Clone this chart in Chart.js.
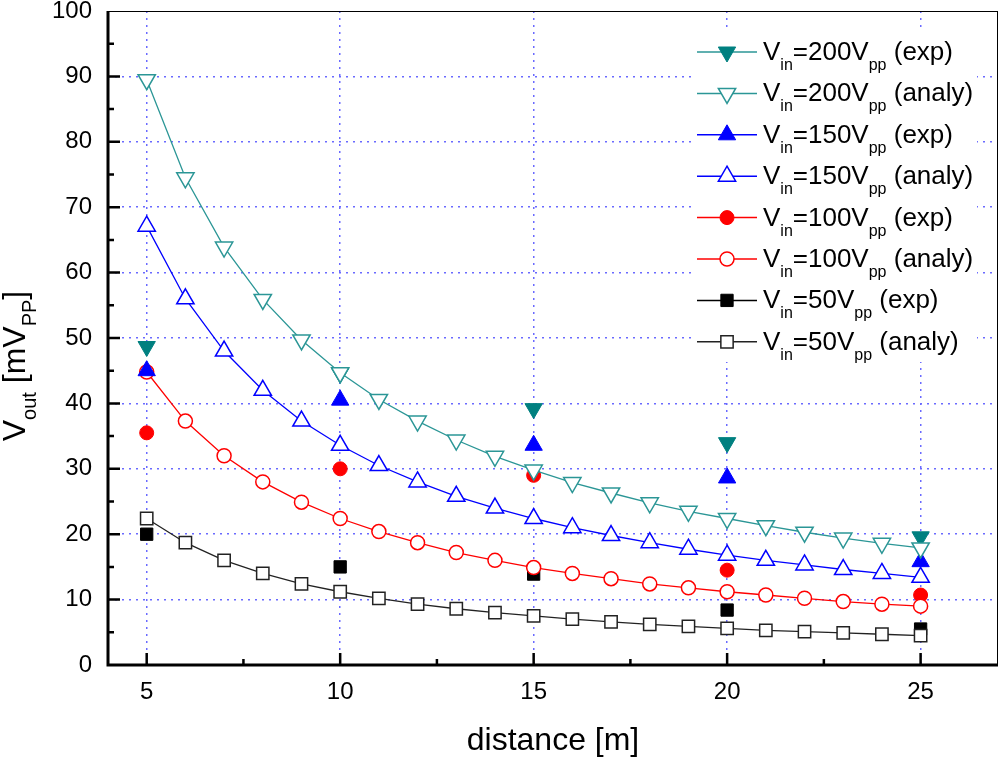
<!DOCTYPE html>
<html>
<head>
<meta charset="utf-8">
<script src="https://cdn.jsdelivr.net/npm/chart.js@4.4.1/dist/chart.umd.min.js"></script>
<style>
html,body{margin:0;padding:0;background:#fff;}
#wrap{width:1000px;height:758px;position:relative;}
</style>
</head>
<body>
<div id="wrap"><canvas id="c" width="1000" height="758"></canvas></div>
<script>
// ---- data ----
const distances = [5,6,7,8,9,10,11,12,13,14,15,16,17,18,19,20,21,22,23,24,25];
const expDistances = [5,10,15,20,25];

const analy200 = [89.5,74.5,63.9,55.9,49.7,44.7,40.6,37.3,34.4,31.9,29.8,27.9,26.3,24.8,23.5,22.4,21.3,20.3,19.4,18.6,17.9];
const analy150 = [67.1,56.0,48.0,42.0,37.3,33.6,30.5,28.0,25.8,24.0,22.4,21.0,19.8,18.7,17.7,16.8,16.0,15.3,14.6,14.0,13.4];
const analy100 = [44.8,37.3,32.0,28.0,24.9,22.4,20.4,18.7,17.2,16.0,14.9,14.0,13.2,12.4,11.8,11.2,10.7,10.2,9.7,9.3,9.0];
const analy50  = [22.4,18.7,16.0,14.0,12.4,11.2,10.2,9.3,8.6,8.0,7.5,7.0,6.6,6.2,5.9,5.6,5.3,5.1,4.9,4.7,4.5];

const exp200 = [48.7,44.6,39.2,34.0,19.6];
const exp150 = [45.0,40.5,33.6,28.6,15.8];
const exp100 = [35.5,30.0,29.0,14.5,10.7];
const exp50  = [20.0,15.0,13.9,8.4,5.5];

const legendLabels = [
  'V_{in}=200V_{pp} (exp)',
  'V_{in}=200V_{pp} (analy)',
  'V_{in}=150V_{pp} (exp)',
  'V_{in}=150V_{pp} (analy)',
  'V_{in}=100V_{pp} (exp)',
  'V_{in}=100V_{pp} (analy)',
  'V_{in}=50V_{pp} (exp)',
  'V_{in}=50V_{pp} (analy)'
];
const xTickValues = [5,10,15,20,25];
const xTitle = 'distance [m]';
const yTitle = 'V_{out} [mV_{PP}]';

// ---- styling ----
const FONT = "'Liberation Sans', Arial, Helvetica, sans-serif";
const TEAL = '#008080', TEAL_L = '#2b9696', BLUE = '#0000ff', RED = '#ff0000', BLACK = '#000000';

function pts(xs, ys){ return xs.map((x,i)=>({x:x, y:ys[i]})); }

function expSet(label, xs, ys, color, lineCol, style, rot, r, order){
  return {label, data: pts(xs,ys), showLine:false, pointStyle:style, pointRotation:rot,
    pointRadius:r, pointHoverRadius:r, backgroundColor:color, borderColor:color,
    pointBackgroundColor:color, pointBorderColor:color, pointBorderWidth:1,
    legendLine: lineCol, order};
}
function analySet(label, xs, ys, color, style, rot, r, order){
  return {label, data: pts(xs,ys), showLine:true, borderWidth:1.3, borderColor:color,
    backgroundColor:'#ffffff', pointStyle:style, pointRotation:rot, pointRadius:r, pointHoverRadius:r,
    pointBackgroundColor:'#ffffff', pointBorderColor:color, pointBorderWidth:1.5,
    legendLine: color, tension:0, order};
}

const datasets = [
  expSet(legendLabels[0], expDistances, exp200, TEAL, TEAL_L, 'triangle', 180, 10, 1),
  analySet(legendLabels[1], distances, analy200, TEAL_L, 'triangle', 180, 10, 0),
  expSet(legendLabels[2], expDistances, exp150, BLUE, BLUE, 'triangle', 0, 10, 3),
  analySet(legendLabels[3], distances, analy150, BLUE, 'triangle', 0, 10, 2),
  expSet(legendLabels[4], expDistances, exp100, RED, RED, 'circle', 0, 7, 5),
  analySet(legendLabels[5], distances, analy100, RED, 'circle', 0, 7, 4),
  expSet(legendLabels[6], expDistances, exp50, BLACK, BLACK, 'rect', 0, 8.7, 7),
  analySet(legendLabels[7], distances, analy50, '#222222', 'rect', 0, 8.7, 6)
];

// ---- rich text (subscripts) ----
function parseRich(str){
  const parts=[]; const re=/_\{([^}]*)\}/g; let last=0, m;
  while((m=re.exec(str))){
    if(m.index>last) parts.push({t:str.slice(last,m.index), sub:false});
    parts.push({t:m[1], sub:true}); last=re.lastIndex;
  }
  if(last<str.length) parts.push({t:str.slice(last), sub:false});
  return parts;
}
function drawRich(ctx, str, x, y, size, subSize, subShift, align){
  const parts=parseRich(str);
  let w=0;
  for(const p of parts){ ctx.font=(p.sub?subSize:size)+'px '+FONT; w+=ctx.measureText(p.t).width; }
  let cx = align==='center' ? x-w/2 : x;
  ctx.textAlign='left'; ctx.textBaseline='alphabetic';
  for(const p of parts){
    ctx.font=(p.sub?subSize:size)+'px '+FONT;
    ctx.fillText(p.t, cx, p.sub ? y+subShift : y);
    cx += ctx.measureText(p.t).width;
  }
}

function drawMarker(ctx, ds, x, y){
  const r = ds.pointRadius, rot = (ds.pointRotation||0)*Math.PI/180;
  ctx.fillStyle = ds.pointBackgroundColor;
  ctx.strokeStyle = ds.pointBorderColor;
  ctx.lineWidth = ds.pointBorderWidth;
  if (Chart.helpers && Chart.helpers.drawPoint) {
    Chart.helpers.drawPoint(ctx, {pointStyle: ds.pointStyle, rotation: ds.pointRotation||0, radius: r, borderWidth: ds.pointBorderWidth}, x, y);
    return;
  }
  ctx.beginPath();
  if (ds.pointStyle==='circle') ctx.arc(x,y,r,0,Math.PI*2);
  else if (ds.pointStyle==='rect') { const s=Math.SQRT1_2*r; ctx.rect(x-s,y-s,2*s,2*s); }
  else { let a=rot; ctx.moveTo(x+Math.sin(a)*r, y-Math.cos(a)*r); a+=2*Math.PI/3; ctx.lineTo(x+Math.sin(a)*r, y-Math.cos(a)*r); a+=2*Math.PI/3; ctx.lineTo(x+Math.sin(a)*r, y-Math.cos(a)*r); ctx.closePath(); }
  ctx.fill(); ctx.stroke();
}

const framePlugin = {
  id:'frame',
  afterDatasetsDraw(chart){
    const ctx=chart.ctx, ca=chart.chartArea, xs=chart.scales.x, ys=chart.scales.y;
    ctx.save();
    // frame
    ctx.strokeStyle='#000';
    ctx.lineWidth=1;
    ctx.beginPath();
    ctx.moveTo(ca.left, ca.top+0.5); ctx.lineTo(ca.right, ca.top+0.5);
    ctx.moveTo(ca.right-0.5, ca.top); ctx.lineTo(ca.right-0.5, ca.bottom);
    ctx.stroke();
    ctx.lineWidth=3;
    ctx.beginPath();
    ctx.moveTo(ca.left, ca.top); ctx.lineTo(ca.left, ca.bottom+1.5);
    ctx.moveTo(ca.left-1.5, ca.bottom); ctx.lineTo(ca.right, ca.bottom);
    ctx.stroke();
    // inward ticks
    ctx.lineWidth=2.5;
    ctx.beginPath();
    for(let v=5; v<100; v+=5){
      const py=ys.getPixelForValue(v);
      const len = (v%10===0)?12:6;
      ctx.moveTo(ca.left, py); ctx.lineTo(ca.left+len, py);
    }
    for(let v=5; v<=25; v+=2.5){
      const px=xs.getPixelForValue(v);
      const len = (v%5===0)?12:6;
      ctx.moveTo(px, ca.bottom); ctx.lineTo(px, ca.bottom-len);
    }
    ctx.stroke();
    // legend
    ctx.fillStyle='#fff';
    ctx.fillRect(693, 29, 284, 333);
    chart.data.datasets.forEach((ds,i)=>{
      const cy = 52 + 41.4*i;
      ctx.strokeStyle = ds.legendLine; ctx.lineWidth=1.5;
      ctx.beginPath(); ctx.moveTo(697, cy); ctx.lineTo(757, cy); ctx.stroke();
      drawMarker(ctx, ds, 727, cy);
      ctx.fillStyle='#000';
      drawRich(ctx, ds.label, 763, cy+8, 26, 16, 10, 'left');
    });
    // axis titles
    ctx.fillStyle='#000';
    drawRich(ctx, xTitle, (ca.left+ca.right)/2, 750, 32, 20, 11, 'center');
    ctx.translate(25, 366);
    ctx.rotate(-Math.PI/2);
    drawRich(ctx, yTitle, 0, 0, 32, 20, 11, 'center');
    ctx.restore();
  }
};

new Chart(document.getElementById('c'), {
  type:'line',
  data:{datasets},
  plugins:[framePlugin],
  options:{
    responsive:false,
    animation:false,
    devicePixelRatio:1,
    layout:{autoPadding:false, padding:{left:0,right:2,top:11,bottom:0}},
    plugins:{legend:{display:false}, tooltip:{enabled:false}},
    elements:{line:{tension:0}},
    scales:{
      x:{
        type:'linear', min:4, max:27, bounds:'data',
        afterBuildTicks(s){ s.ticks = xTickValues.map(v=>({value:v})); },
        afterFit(s){ s.height=93; s.paddingLeft=0; s.paddingRight=0; },
        ticks:{color:'#000', font:{family:FONT, size:24}, padding:13, maxRotation:0, autoSkip:false},
        grid:{drawTicks:false, color:'#6a6aff', lineWidth:1.5},
        border:{display:false, dash:[2,5]},
      },
      y:{
        type:'linear', min:0, max:100,
        ticks:{stepSize:10, color:'#000', font:{family:FONT, size:24}, padding:16},
        afterFit(s){ s.width=108; s.paddingTop=0; s.paddingBottom=0; },
        grid:{drawTicks:false, lineWidth:1.5,
          color:(c)=> (c.tick && (c.tick.value===0 || c.tick.value===100)) ? 'rgba(0,0,0,0)' : '#6a6aff'},
        border:{display:false, dash:[2,5]},
      }
    }
  }
});
</script>
</body>
</html>
